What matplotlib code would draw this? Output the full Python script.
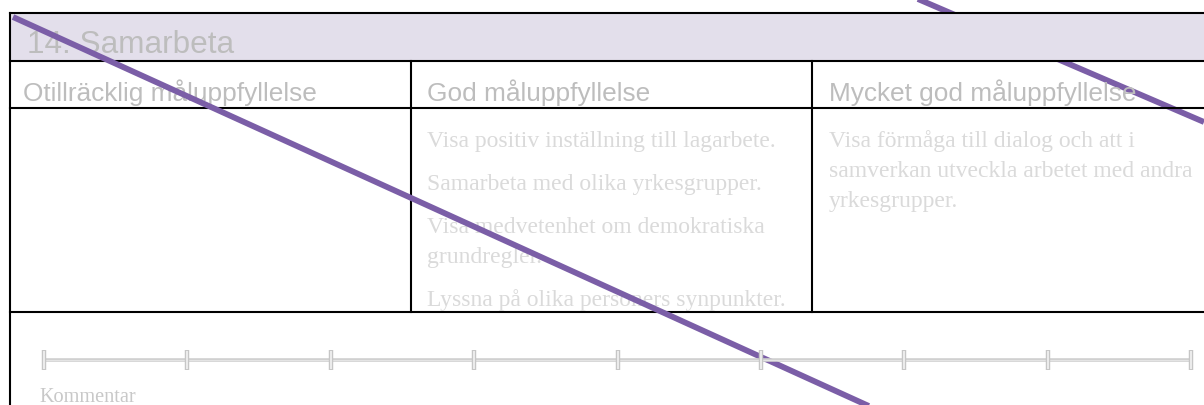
import matplotlib
matplotlib.use('Agg')
import matplotlib.pyplot as plt
from matplotlib.patches import Rectangle

# rubric content
title = '14. Samarbeta'
levels = ['Otillräcklig måluppfyllelse', 'God måluppfyllelse', 'Mycket god måluppfyllelse']
criteria = [
    [],
    ['Visa positiv inställning till lagarbete.',
     'Samarbeta med olika yrkesgrupper.',
     'Visa medvetenhet om demokratiska\ngrundregler.',
     'Lyssna på olika personers synpunkter.'],
    ['Visa förmåga till dialog och att i\nsamverkan utveckla arbetet med andra\nyrkesgrupper.'],
]
slider_steps = [1, 2, 3, 4, 5, 6, 7, 8, 9]
comment_label = 'Kommentar'

# diagonal strike lines (pixel coords)
strike_1 = ([13, 893], [17, 417])
strike_2 = ([890, 1204], [-13, 122])

W, H = 1204, 405
purple = '#7B5EA7'
band = '#E3DFEB'
head_grey = '#BDBDBD'
body_grey = '#DADADA'

fig = plt.figure(figsize=(W / 100, H / 100), dpi=100)
fig.patch.set_facecolor('white')
ax = fig.add_axes([0, 0, 1, 1])
ax.set_xlim(0, W)
ax.set_ylim(H, 0)
ax.axis('off')

col_x = [10, 411, 812]
y_top, y_head, y_crit, y_row_end = 13, 61, 108, 312
lw = 1.5

# second stroke sits behind the title band
ax.plot(strike_2[0], strike_2[1], color=purple, lw=4.2, solid_capstyle='butt', zorder=1)

ax.add_patch(Rectangle((10, y_top), W - 10, y_head - y_top, facecolor=band, edgecolor='none', zorder=2))

for y in [y_top, y_head, y_crit, y_row_end]:
    ax.plot([10, W], [y, y], color='black', lw=lw, zorder=3)
ax.plot([10, 10], [y_top, H + 5], color='black', lw=lw, zorder=3)
for x in col_x[1:]:
    ax.plot([x, x], [y_head, y_row_end], color='black', lw=lw, zorder=3)

ax.text(27, 53, title, fontsize=22.7, family='Liberation Sans', color=head_grey,
        va='baseline', ha='left', zorder=4)

pads = [13, 16, 17]
for i, lab in enumerate(levels):
    ax.text(col_x[i] + pads[i], 101, lab, fontsize=18.9, family='Liberation Sans',
            color=head_grey, va='baseline', ha='left', zorder=4)

line_h, para_gap = 30, 13
for i, items in enumerate(criteria):
    y = 147
    for item in items:
        for ln in item.split('\n'):
            ax.text(col_x[i] + pads[i], y, ln, fontsize=17.0, family='Liberation Serif',
                    color=body_grey, va='baseline', ha='left', zorder=4)
            y += line_h
        y += para_gap

ax.text(39, 402, comment_label, fontsize=14.6, family='Liberation Serif',
        color='#C8C8C8', va='baseline', ha='left', zorder=4)

ax.plot(strike_1[0], strike_1[1], color=purple, lw=4.2, solid_capstyle='butt', zorder=6)

# slider scale
sax = fig.add_axes([44 / W, (H - 372) / H, (1191 - 44) / W, 24 / H])
sax.set_xlim(slider_steps[0], slider_steps[-1])
sax.set_ylim(-1, 1)
sax.axis('off')
sax.set_zorder(0.5)
sax.plot([slider_steps[0], slider_steps[-1]], [0, 0], color='#CFCFCF', lw=2.6, clip_on=False)
sax.plot([slider_steps[0], slider_steps[-1]], [0, 0], color='#E4E4E4', lw=0.8, clip_on=False)
sax.plot(slider_steps, [0] * len(slider_steps), ls='none', marker='|', ms=14.5,
         mew=3.2, color='#C6C6C6', clip_on=False)
sax.plot(slider_steps, [0] * len(slider_steps), ls='none', marker='|', ms=13,
         mew=1.4, color='#EDEDED', clip_on=False)

fig.savefig('out.png', dpi=100)
